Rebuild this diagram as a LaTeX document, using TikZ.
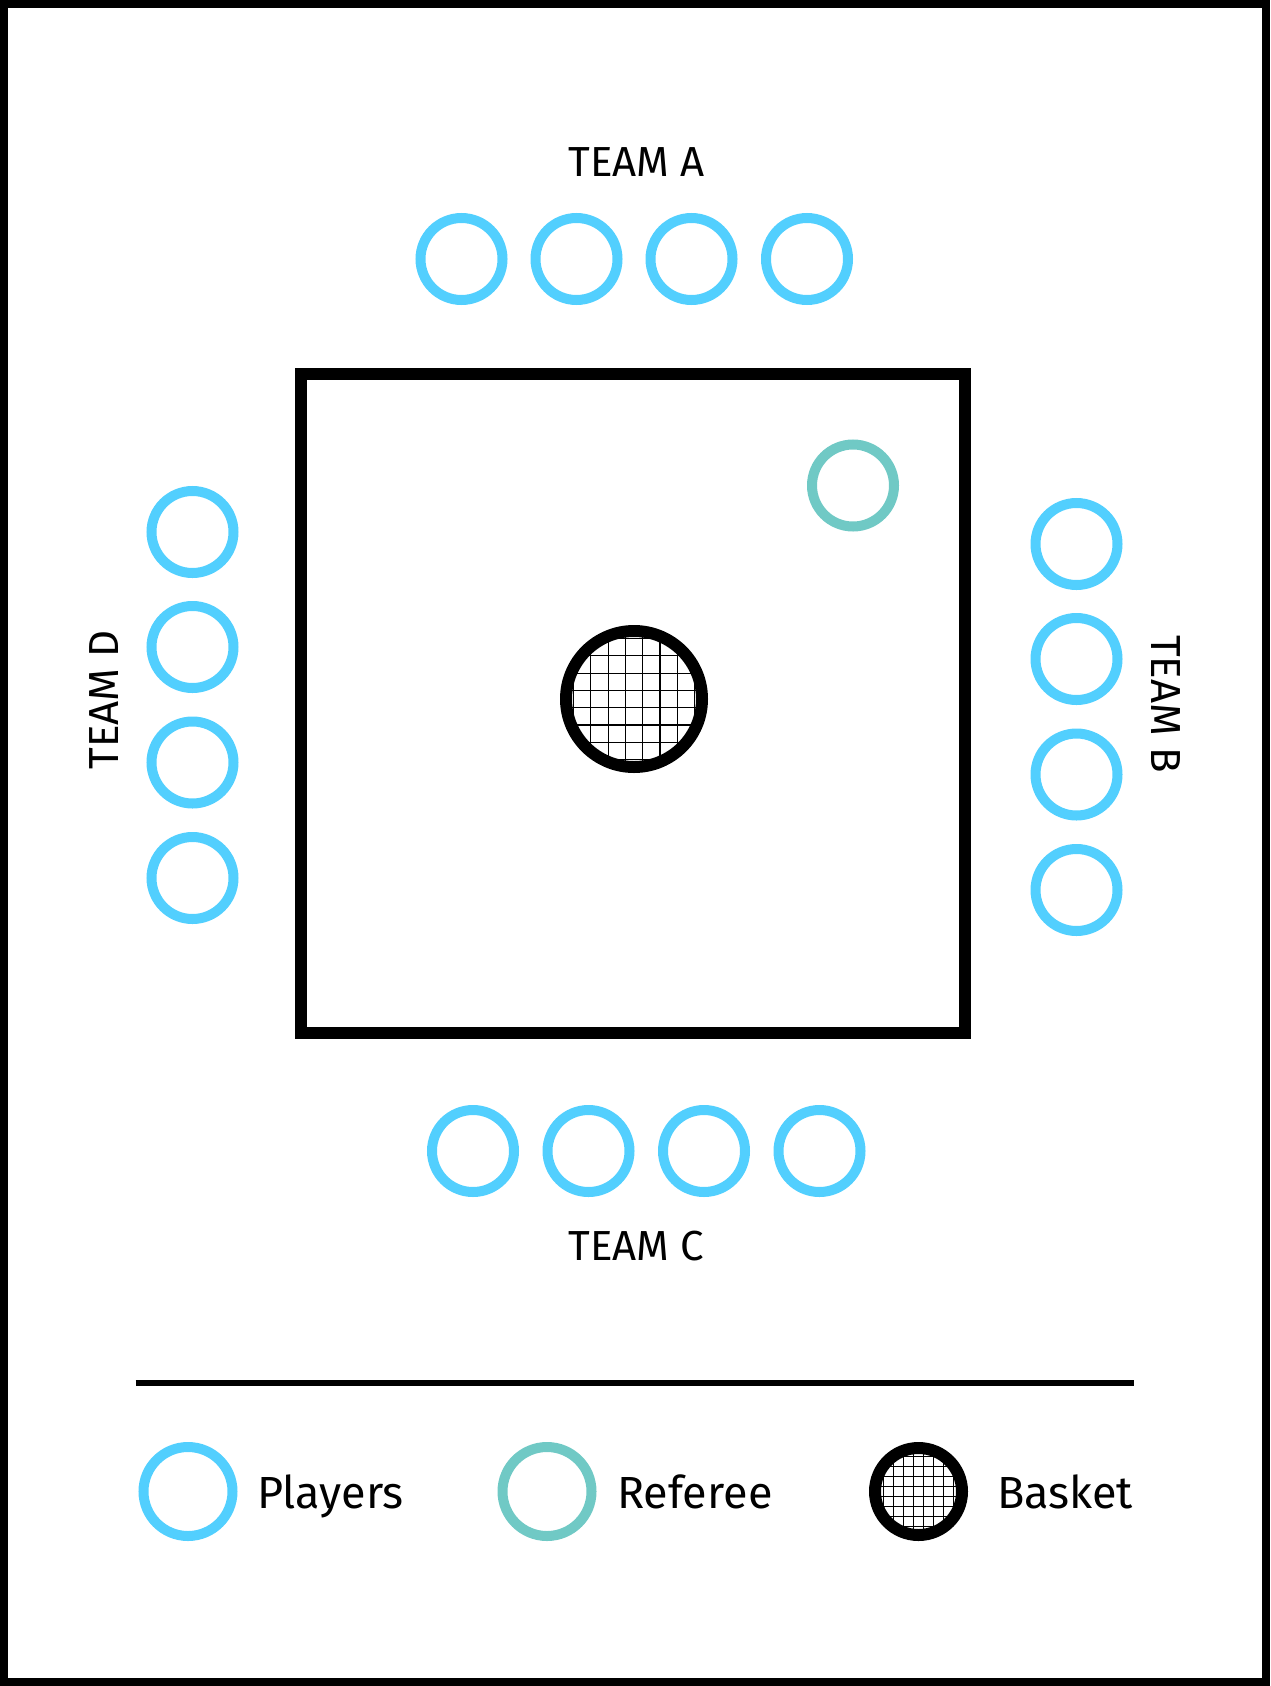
\documentclass[tikz,border=0pt]{standalone}
\usepackage{fontspec}
\setmainfont{Fira Sans}
\definecolor{playerblue}{HTML}{52CFFE}
\definecolor{refteal}{HTML}{70C9C5}
\begin{document}
\begin{tikzpicture}[x=1pt,y=-1pt,
  player/.style={circle, draw=playerblue, line width=10pt, minimum size=82pt, inner sep=0pt},
  referee/.style={circle, draw=refteal, line width=10pt, minimum size=82pt, inner sep=0pt},
  gridfill/.style={path picture={
    \foreach \k in {-6,...,5}{
      \draw[black, line width=1.1pt] ([xshift={(\k+0.5)*#1*1pt}, yshift=-100pt]path picture bounding box.center) -- ++(0pt,200pt);
      \draw[black, line width=1.1pt] ([yshift={(\k+0.5)*#1*1pt}, xshift=-100pt]path picture bounding box.center) -- ++(200pt,0pt);
    }}},
  basket/.style={circle, draw=black, fill=white, line width=12pt, minimum size=136pt, inner sep=0pt, gridfill=17.3},
  teamlabel/.style={font=\fontsize{42}{46}\selectfont, inner sep=0pt},
  legendlabel/.style={font=\fontsize{45}{50}\selectfont, anchor=base west, inner sep=0pt}
]
\useasboundingbox (0,0) rectangle (1270,1686);
\draw[line width=8pt] (4,4) rectangle (1266,1682);
% field
\draw[line width=12pt] (301,374) rectangle (965,1033);
\node[basket] (bk) at (634,699) {};
\node[referee] (ref) at (853,485.5) {};
% team A
\node[player] (a1) at (461.5,259) {};
\node[player] (a2) at (576.5,259) {};
\node[player] (a3) at (691.5,259) {};
\node[player] (a4) at (807,259) {};
\node[teamlabel, anchor=base] (ta) at (636.5,176) {TEAM A};
% team C
\node[player] (c1) at (473,1151) {};
\node[player] (c2) at (588.5,1151) {};
\node[player] (c3) at (704,1151) {};
\node[player] (c4) at (819.5,1151) {};
\node[teamlabel, anchor=base] (tc) at (636.5,1260) {TEAM C};
% team D
\node[player] (d1) at (192.5,532) {};
\node[player] (d2) at (192.5,647) {};
\node[player] (d3) at (192.5,762.5) {};
\node[player] (d4) at (192.5,878) {};
\node[teamlabel, rotate=90] (td) at (104,700) {TEAM D};
% team B
\node[player] (b1) at (1076.5,544) {};
\node[player] (b2) at (1076.5,659) {};
\node[player] (b3) at (1076.5,774.5) {};
\node[player] (b4) at (1076.5,890) {};
\node[teamlabel, rotate=-90] (tb) at (1166,704) {TEAM B};
% legend
\coordinate (l1) at (135.5,1383);
\coordinate (l2) at (1133.5,1383);
\draw[line width=6pt] (l1) -- (l2);
\node[player, minimum size=89pt] (lp) at (188,1491.5) {};
\node[legendlabel] (lpt) at (257,1508) {Players};
\node[referee, minimum size=89pt] (lr) at (547,1491.5) {};
\node[legendlabel] (lrt) at (617,1508) {Referee};
\node[basket, line width=12pt, minimum size=87pt, gridfill=10] (lb) at (918.5,1491.5) {};
\node[legendlabel] (lbt) at (997,1508) {Basket};
\end{tikzpicture}
\end{document}
